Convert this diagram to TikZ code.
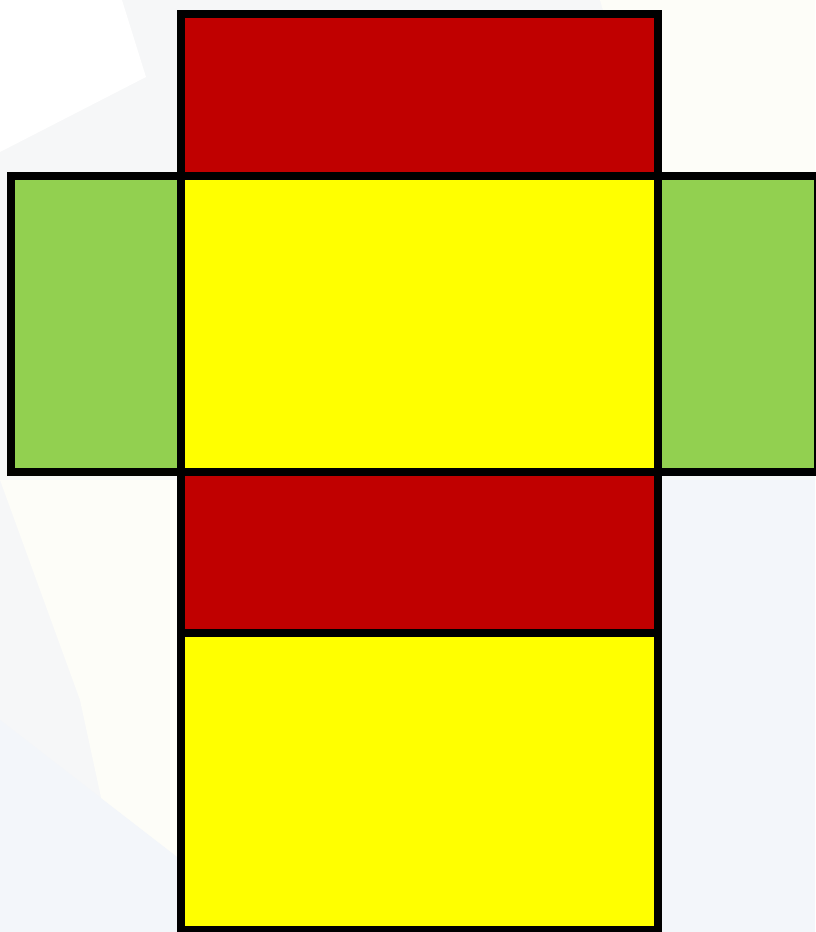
\documentclass[tikz,border=0pt]{standalone}
\definecolor{netred}{HTML}{C00000}
\definecolor{netyellow}{HTML}{FFFF00}
\definecolor{netgreen}{HTML}{92D050}
\definecolor{bgbase}{HTML}{F6F7F8}
\definecolor{bgwarm}{HTML}{FDFDF8}
\definecolor{bgcool}{HTML}{F3F6FA}
\tikzset{
  face/.style={draw=black, line width=8pt, line join=miter},
}
\begin{document}
\begin{tikzpicture}[x=1pt,y=-1pt]
  % background
  \fill[bgbase] (0,0) rectangle (815,932);
  \useasboundingbox (0,0) rectangle (815,932);
  \fill[white] (0,0) -- (122,0) -- (146,77) -- (0,152) -- cycle;
  \fill[bgwarm] (600,0) -- (815,0) -- (815,175) -- (650,175) -- cycle;
  \fill[bgwarm] (0,480) -- (181,480) -- (181,932) -- (130,932) -- (80,700) -- cycle;
  \fill[bgcool] (0,720) -- (181,860) -- (181,932) -- (0,932) -- cycle;
  \fill[bgcool] (658,480) -- (815,480) -- (815,932) -- (658,932) -- cycle;
  % faces
  \draw[face, fill=netgreen] (11,176) rectangle (181,472);
  \draw[face, fill=netgreen] (658,176) rectangle (818,472);
  \draw[face, fill=netred] (181,14) rectangle (658,176);
  \draw[face, fill=netyellow] (181,176) rectangle (658,472);
  \draw[face, fill=netred] (181,472) rectangle (658,633);
  \draw[face, fill=netyellow] (181,633) rectangle (658,930);
\end{tikzpicture}
\end{document}
